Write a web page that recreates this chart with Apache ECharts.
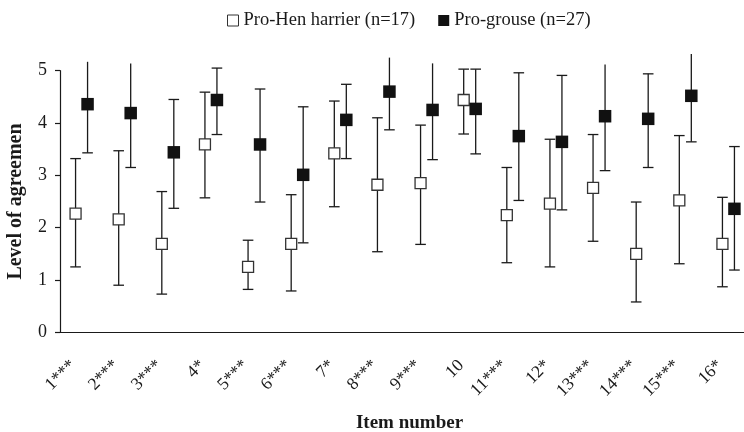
<!DOCTYPE html>
<html>
<head>
<meta charset="utf-8">
<script src="https://cdn.jsdelivr.net/npm/echarts@6/dist/echarts.min.js"></script>
<style>
  html, body { margin: 0; padding: 0; background: #fff; }
  #main { width: 744px; height: 432px; }
</style>
</head>
<body>
<div id="main"></div>
<script>
// item labels on the x axis
const items = ['1***', '2***', '3***', '4*', '5***', '6***', '7*', '8***', '9***', '10', '11***', '12*', '13***', '14***', '15***', '16*'];

// Pro-Hen harrier: mean and whisker ends
const henMean = [2.27, 2.16, 1.69, 3.59, 1.25, 1.69, 3.42, 2.82, 2.85, 4.44, 2.24, 2.46, 2.76, 1.50, 2.52, 1.69];
const henLow  = [1.25, 0.90, 0.73, 2.57, 0.82, 0.79, 2.40, 1.54, 1.68, 3.79, 1.33, 1.25, 1.74, 0.58, 1.31, 0.87];
const henHigh = [3.32, 3.47, 2.69, 4.59, 1.76, 2.63, 4.42, 4.10, 3.96, 5.03, 3.15, 3.69, 3.78, 2.49, 3.76, 2.58];

// Pro-grouse: mean and whisker ends
const grouseMean = [4.36, 4.19, 3.44, 4.44, 3.59, 3.01, 4.06, 4.60, 4.25, 4.27, 3.75, 3.64, 4.13, 4.08, 4.52, 2.36];
const grouseLow  = [3.43, 3.15, 2.37, 3.78, 2.49, 1.71, 3.32, 3.87, 3.30, 3.41, 2.52, 2.34, 3.09, 3.15, 3.64, 1.19];
const grouseHigh = [5.17, 5.14, 4.45, 5.05, 4.65, 4.31, 4.74, 5.25, 5.14, 5.03, 4.96, 4.91, 5.12, 4.94, 5.32, 3.55];

const yTicks = [0, 1, 2, 3, 4, 5];

const serif = 'Liberation Serif';
const ink = '#1a1a1a';

function errorBars(offset) {
  return function (params, api) {
    const i = api.value(0);
    const lo = api.coord([i, api.value(1)]);
    const hi = api.coord([i, api.value(2)]);
    const x = lo[0] + offset;
    const style = { stroke: ink, lineWidth: 1.3 };
    const children = [
      { type: 'line', shape: { x1: x, y1: lo[1], x2: x, y2: hi[1] }, style: style },
      { type: 'line', shape: { x1: x - 5.3, y1: lo[1], x2: x + 5.3, y2: lo[1] }, style: style }
    ];
    // whiskers running past the top of the axis have no cap
    if (api.value(2) <= 5.06) {
      children.push({ type: 'line', shape: { x1: x - 5.3, y1: hi[1], x2: x + 5.3, y2: hi[1] }, style: style });
    }
    return { type: 'group', children: children };
  };
}

const henBars = items.map((c, i) => [i, henLow[i], henHigh[i]]);
const grouseBars = items.map((c, i) => [i, grouseLow[i], grouseHigh[i]]);

var chart = echarts.init(document.getElementById('main'));
var option = {
  backgroundColor: '#fff',
  animation: false,
  legend: {
    top: 6,
    left: 222,
    itemWidth: 11,
    itemHeight: 11,
    itemGap: 23,
    textStyle: { fontFamily: serif, fontSize: 18.5, color: ink },
    data: [
      { name: 'Pro-Hen harrier (n=17)', icon: 'rect', itemStyle: { color: '#fff', borderColor: '#333', borderWidth: 1 } },
      { name: 'Pro-grouse (n=27)', icon: 'rect', itemStyle: { color: '#111', borderWidth: 0 } }
    ]
  },
  grid: { left: 60, right: -6, top: 70.7, bottom: 99.7, containLabel: false, outerBoundsMode: 'none' },
  xAxis: {
    type: 'category',
    data: items,
    name: 'Item number',
    nameLocation: 'middle',
    nameGap: 81,
    nameTextStyle: { fontFamily: serif, fontSize: 19, fontWeight: 'bold', color: ink, padding: [0, 0, 0, 9] },
    axisLine: { lineStyle: { color: ink, width: 1.2 } },
    axisTick: { length: 5, lineStyle: { color: ink, width: 1.2 } },
    axisLabel: { rotate: 45, margin: 22, padding: [0, 12, 0, 0], fontFamily: serif, fontSize: 17.5, color: ink, interval: 0 },
    splitLine: { show: false }
  },
  yAxis: {
    type: 'value',
    min: yTicks[0],
    max: yTicks[yTicks.length - 1],
    interval: 1,
    name: 'Level of agreemen',
    nameLocation: 'middle',
    nameGap: 34,
    nameTextStyle: { fontFamily: serif, fontSize: 20, fontWeight: 'bold', color: ink },
    axisLine: { show: true, lineStyle: { color: ink, width: 1.2 } },
    axisTick: { show: true, length: 5, lineStyle: { color: ink, width: 1.2 } },
    axisLabel: { margin: 13, fontFamily: serif, fontSize: 18, color: ink },
    splitLine: { show: false }
  },
  series: [
    {
      name: 'Pro-Hen harrier (n=17)',
      type: 'custom',
      renderItem: errorBars(-6),
      data: henBars,
      encode: { x: 0, y: [1, 2] },
      z: 1
    },
    {
      name: 'Pro-grouse (n=27)',
      type: 'custom',
      renderItem: errorBars(6),
      data: grouseBars,
      encode: { x: 0, y: [1, 2] },
      z: 1
    },
    {
      name: 'Pro-Hen harrier (n=17)',
      type: 'scatter',
      data: henMean,
      symbol: 'rect',
      symbolSize: 11,
      symbolOffset: [-6, 0],
      itemStyle: { color: '#fff', borderColor: '#333', borderWidth: 1.3, opacity: 1 },
      z: 3
    },
    {
      name: 'Pro-grouse (n=27)',
      type: 'scatter',
      data: grouseMean,
      symbol: 'rect',
      symbolSize: 12.5,
      symbolOffset: [6, 0],
      itemStyle: { color: '#111', opacity: 1 },
      z: 3
    }
  ]
};
chart.setOption(option);
</script>
</body>
</html>
